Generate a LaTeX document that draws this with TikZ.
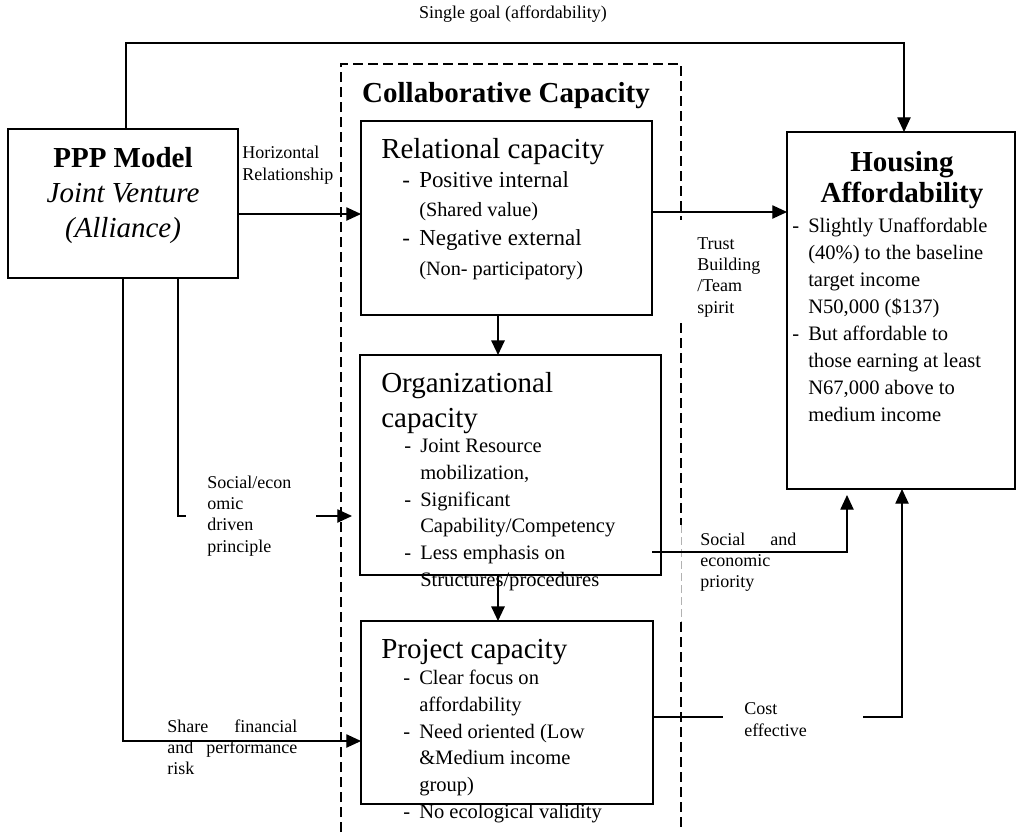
\documentclass[tikz,border=0pt]{standalone}
\usepackage{fontspec}
\setmainfont{Liberation Serif}
\usetikzlibrary{arrows.meta,fit}
\newcommand\dashmark{\makebox[12pt][l]{-}}
\newcommand\hang{\hspace*{12pt}}
\begin{document}
\begin{tikzpicture}[x=0.75pt,y=-0.75pt,
  box/.style={draw,line width=1.5pt,inner sep=0pt,outer sep=0pt},
  conn/.style={line width=0.9pt},
  thickconn/.style={line width=1.5pt},
  tip/.style={-{Triangle[length=11pt,width=10pt]}},
  ttl/.style={font=\fontsize{21.75}{26.25}\selectfont,inner sep=0pt},
  body/.style={font=\fontsize{15.4}{20}\selectfont,align=left,inner sep=0pt,anchor=base west},
  relbig/.style={font=\fontsize{17.2}{22}\selectfont,inner sep=0pt,anchor=base west},
  relsmall/.style={font=\fontsize{15.2}{20}\selectfont,inner sep=0pt,anchor=base west},
  lbl/.style={font=\fontsize{13.5}{16}\selectfont,align=left,inner sep=0pt,anchor=base west},
  collab/.style={dash pattern=on 7.5pt off 3.75pt,line width=1.5pt},
  faint/.style={draw=gray!60,line width=0.5pt,dash pattern=on 6pt off 3pt},
]
\useasboundingbox (0,0) rectangle (1016,832);

% boxes
\node[box,fit={(8,129)(238,278)}] (ppp) {};
\node[box,fit={(361,121)(652,315)}] (rel) {};
\node[box,fit={(360,355)(661,575)}] (org) {};
\node[box,fit={(361,621)(653,804)}] (proj) {};
\node[box,fit={(787,132)(1015,489)}] (ha) {};

% collaborative dashed frame
\draw[collab] (341,832) -- (341,64) -- (681,64) -- (681,220);
\draw[collab] (681,323) -- (681,525);
\draw[faint] (681,525) -- (681,622);
\draw[collab] (681,622) -- (681,832);

% texts in boxes (multi-line nodes: base = last line)
\node[ttl,align=center,anchor=base] (pppt) at (123,237)
  {\textbf{PPP Model}\\\textit{Joint Venture}\\\textit{(Alliance)}};
\node[ttl,anchor=base] (colt) at (506,102) {\textbf{Collaborative Capacity}};

\node[ttl,anchor=base west] (relt) at (381,158) {Relational capacity};
\node[relbig] (r1) at (402,187) {\makebox[12.75pt][l]{-}Positive internal};
\node[relsmall] (r2) at (419,216) {(Shared value)};
\node[relbig] (r3) at (402,245) {\makebox[12.75pt][l]{-}Negative external};
\node[relsmall] (r4) at (419,275) {(Non- participatory)};

\node[ttl,align=left,anchor=base west] (orgt) at (381,427) {Organizational\\capacity};
\node[body] (orgb) at (404,586.3) {\dashmark Joint Resource\\\hang mobilization,\\\dashmark Significant\\\hang Capability/Competency\\\dashmark Less emphasis on\\\hang Structures/procedures};

\node[ttl,anchor=base west] (projt) at (381,658) {Project capacity};
\node[body] (projb) at (403,818.3) {\dashmark Clear focus on\\\hang affordability\\\dashmark Need oriented (Low\\\hang \&Medium income\\\hang group)\\\dashmark No ecological validity};

\node[ttl,align=center,anchor=base,font=\fontsize{21.75}{23.25}\selectfont\bfseries] (hat) at (902,202) {Housing\\Affordability};
\node[body,font=\fontsize{15.4}{20.2}\selectfont] (hab) at (792,421.5) {\dashmark Slightly Unaffordable\\\hang (40\%) to the baseline\\\hang target income\\\hang N50,000 (\$137)\\\dashmark But affordable to\\\hang those earning at least\\\hang N67,000 above to\\\hang medium income};

% labels
\node[lbl,anchor=base] (sg) at (513,18) {Single goal (affordability)};
\node[lbl] (hr) at (242,180.3) {Horizontal\\Relationship};
\node[lbl] (tb) at (697,313) {Trust\\Building\\/Team\\spirit};
\node[lbl] (se) at (207,552) {Social/econ\\omic\\driven\\principle};
\node[lbl] (sep) at (700,587.7) {\makebox[72pt][s]{Social and}\\economic\\priority};
\node[lbl] (ce) at (744,736.3) {Cost\\effective};
\node[lbl] (sf) at (167,774.7) {\makebox[97.5pt][s]{Share financial}\\\makebox[97.5pt][s]{and performance}\\risk};

% connectors
\coordinate (tl) at (126,43);
\coordinate (tr) at (904,43);
\draw[conn,tip] (ppp.north -| tl) -- (tl) -- (tr) -- (ha.north -| tr);

\draw[conn,tip] (ppp.east |- 0,214) -- (rel.west |- 0,214);
\draw[conn,tip] (rel.east |- 0,212) -- (ha.west |- 0,212);
\draw[thickconn,tip] (rel.south -| 498,0) -- (org.north -| 498,0);
\draw[thickconn,tip] (org.south -| 498,0) -- (proj.north -| 498,0);

\coordinate (sebend) at (178,516);
\coordinate (seend) at (186,516);
\coordinate (sestart) at (316,516);
\draw[conn] (ppp.south -| sebend) -- (sebend) -- (seend);
\draw[conn,tip,shorten >=6pt] (sestart) -- (org.west |- sestart);

\coordinate (sfbend) at (123,741);
\draw[conn,tip] (ppp.south -| sfbend) -- (sfbend) -- (proj.west |- sfbend);

\coordinate (spstart) at (652,552);
\coordinate (spbend) at (847,552);
\draw[conn,tip,shorten >=4.5pt] (spstart) -- (spbend) -- (ha.south -| spbend);

\coordinate (ceend) at (723,717);
\coordinate (cestart) at (863,717);
\coordinate (cebend) at (902,717);
\draw[conn] (proj.east |- ceend) -- (ceend);
\draw[conn,tip] (cestart) -- (cebend) -- (ha.south -| cebend);
\end{tikzpicture}
\end{document}
